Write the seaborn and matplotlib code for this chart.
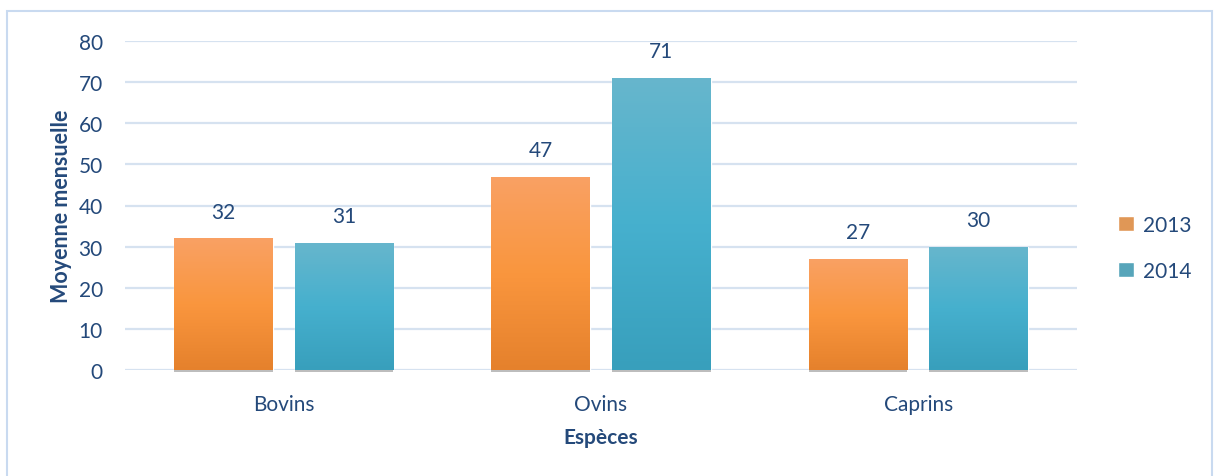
import numpy as np
import pandas as pd
import matplotlib
matplotlib.use("Agg")
import matplotlib.pyplot as plt
from matplotlib.colors import LinearSegmentedColormap
from matplotlib.patches import Rectangle
import seaborn as sns

categories = ["Bovins", "Ovins", "Caprins"]
years = ["2013", "2014"]
values_2013 = [32, 47, 27]
values_2014 = [31, 71, 30]

df = pd.DataFrame({
    "Espèces": categories * 2,
    "Année": [years[0]] * 3 + [years[1]] * 3,
    "Valeur": values_2013 + values_2014,
})

sns.set_theme(style="white")
plt.rcParams["font.family"] = ["Lato", "DejaVu Sans"]

TEXT = "#24497A"
GRID = "#D6E2F0"
palette = {"2013": "#F7963F", "2014": "#46AECB"}
grads = {
    "2013": ["#E5812C", "#FA963E", "#F9A164"],
    "2014": ["#389FBC", "#46B0CE", "#67B6CC"],
}

fig = plt.figure(figsize=(12.18, 4.77), dpi=100)
ax = fig.add_axes([125 / 1218, 106 / 477, (1077 - 125) / 1218, (371 - 42) / 477])

sns.barplot(data=df, x="Espèces", y="Valeur", hue="Année", palette=palette,
            width=0.76, gap=0.18, ax=ax, order=categories, hue_order=years,
            legend=True)

ax.set_ylim(0, 80)
ax.set_xlim(-0.5, 2.5)
ax.set_yticks(range(0, 81, 10))
ax.yaxis.grid(True, color=GRID, linewidth=1.6)
ax.set_axisbelow(True)
for s in ax.spines.values():
    s.set_visible(False)
ax.tick_params(axis="both", length=0, labelsize=15, labelcolor=TEXT)
ax.tick_params(axis="y", pad=16)
ax.tick_params(axis="x", pad=17)
ax.set_ylabel("Moyenne mensuelle", fontsize=15.5, fontweight="bold", color=TEXT, labelpad=5)
ax.set_xlabel("Espèces", fontsize=15, fontweight="bold", color=TEXT, labelpad=10)

# gradients, shadows and labels
for cont, yr in zip(ax.containers, years):
    cmap = LinearSegmentedColormap.from_list("g" + yr, grads[yr])
    for p in cont.patches:
        x0, y0 = p.get_x(), p.get_y()
        w, h = p.get_width(), p.get_height()
        grad = np.linspace(0, 1, 256).reshape(-1, 1)
        im = ax.imshow(grad, cmap=cmap, origin="lower", aspect="auto",
                       extent=[x0, x0 + w, y0, y0 + h], zorder=p.get_zorder() + 0.1)
        im.set_clip_path(p)
        ax.add_patch(Rectangle((x0, y0 - 0.5), w, 0.5, facecolor="#BDBDBD",
                               edgecolor="none", zorder=p.get_zorder() - 0.05,
                               clip_on=False))
    ax.bar_label(cont, padding=12, fontsize=15, color=TEXT)
ax.set_xlim(-0.5, 2.5)
ax.set_ylim(0, 80)

leg = ax.legend(loc="center left", bbox_to_anchor=(1118 / 1218, (477 - 249) / 477),
                bbox_transform=fig.transFigure, frameon=False, fontsize=15,
                handlelength=0.75, handleheight=0.75, handletextpad=0.45,
                labelspacing=1.25, borderpad=0, borderaxespad=0, title=None)
for t in leg.get_texts():
    t.set_color(TEXT)

fig.patches.append(Rectangle((7 / 1218, -0.01), (1212 - 7) / 1218, (477 - 12) / 477 + 0.01,
                             transform=fig.transFigure, fill=False,
                             edgecolor="#C9DAF0", linewidth=1.5))

fig.savefig("out.png", dpi=100)
